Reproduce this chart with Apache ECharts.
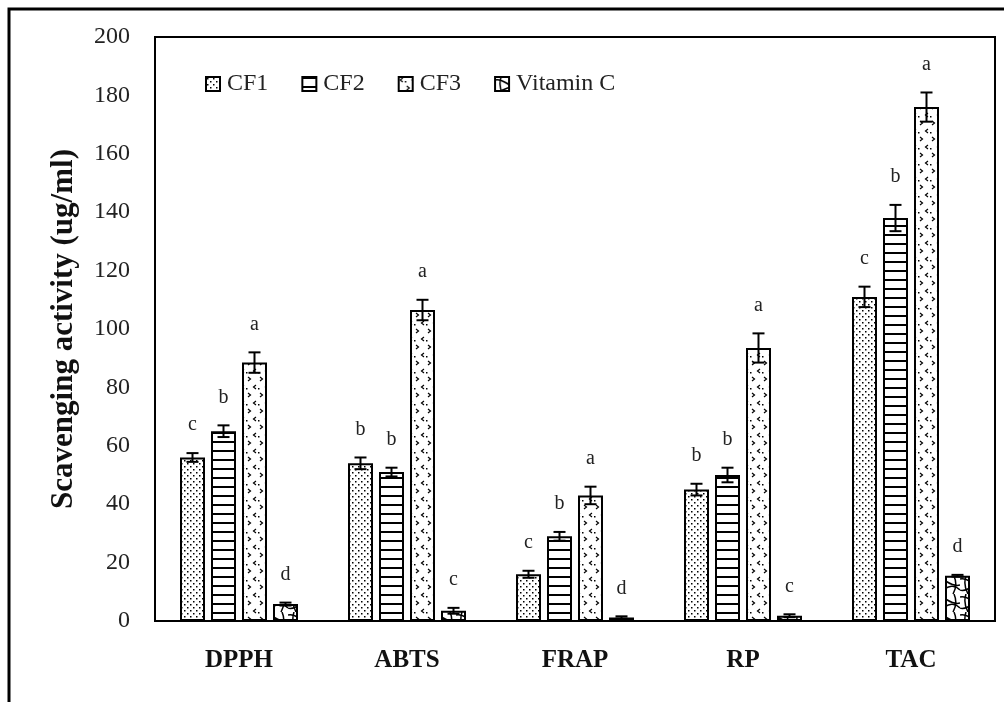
<!DOCTYPE html>
<html>
<head>
<meta charset="utf-8">
<script src="https://cdn.jsdelivr.net/npm/echarts@6/dist/echarts.min.js"></script>
<style>
html,body{margin:0;padding:0;background:#fff;}
#chart{width:1004px;height:702px;}
</style>
</head>
<body>
<div id="chart"></div>
<script>
// ---- data ----
const categories = ['DPPH', 'ABTS', 'FRAP', 'RP', 'TAC'];
const seriesNames = ['CF1', 'CF2', 'CF3', 'Vitamin C'];
const cf1 = [56, 54, 16, 45, 111];
const cf2 = [65, 51, 29, 50, 138];
const cf3 = [88.5, 106.5, 43, 93.5, 176];
const vitC = [5.8, 3.5, 1.2, 1.8, 15.5];
const cf1Err = [1.5, 2, 1.2, 2, 3.5];
const cf2Err = [2, 1.5, 1.5, 2.5, 4.5];
const cf3Err = [3.5, 3.5, 3, 5, 5];
const vitCErr = [0.5, 1, 0.4, 0.5, 0.3];
const cf1Letters = ['c', 'b', 'c', 'b', 'c'];
const cf2Letters = ['b', 'b', 'b', 'b', 'b'];
const cf3Letters = ['a', 'a', 'a', 'a', 'a'];
const vitCLetters = ['d', 'c', 'd', 'c', 'd'];
const yMin = 0, yMax = 200, yStep = 20;

const values = [cf1, cf2, cf3, vitC];
const errors = [cf1Err, cf2Err, cf3Err, vitCErr];
const letters = [cf1Letters, cf2Letters, cf3Letters, vitCLetters];

// ---- patterns ----
function makeCanvas(w, h, draw) {
  const c = document.createElement('canvas');
  c.width = w; c.height = h;
  const g = c.getContext('2d');
  g.fillStyle = '#fff'; g.fillRect(0, 0, w, h);
  g.fillStyle = '#000'; g.strokeStyle = '#000';
  draw(g);
  return c;
}
const patDots = makeCanvas(6, 6, g => {
  g.fillRect(1, 1, 1.5, 1.5);
  g.fillRect(4, 4, 1.5, 1.5);
});
const patLines = makeCanvas(8, 9, g => {
  g.fillRect(0, 0, 8, 2);
});
const patChev = makeCanvas(12, 16, g => {
  g.lineWidth = 1.2;
  g.beginPath(); g.moveTo(4, 1); g.lineTo(1.5, 3); g.lineTo(4, 5); g.stroke();
  g.beginPath(); g.moveTo(8, 9); g.lineTo(10.5, 11); g.lineTo(8, 13); g.stroke();
  g.fillRect(6, 4, 1.5, 1.5);
});
const patWave = makeCanvas(24, 18, g => {
  g.lineWidth = 1.5;
  g.beginPath(); g.moveTo(0, 3); g.bezierCurveTo(8, 0, 14, 12, 24, 9); g.stroke();
  g.beginPath(); g.moveTo(0, 14); g.bezierCurveTo(6, 18, 14, 4, 24, 14); g.stroke();
  g.beginPath(); g.moveTo(6, 0); g.quadraticCurveTo(3, 9, 8, 18); g.stroke();
  g.beginPath(); g.moveTo(18, 0); g.quadraticCurveTo(22, 9, 17, 18); g.stroke();
});
const patterns = [patDots, patLines, patChev, patWave];

const FONT = 'Liberation Serif';
const BAR_W = 25, BAR_GAP = 6;

const barSeries = seriesNames.map((name, k) => ({
  name: name,
  type: 'bar',
  data: values[k],
  barWidth: BAR_W,
  barGap: (BAR_GAP / BAR_W * 100) + '%',
  itemStyle: {
    color: { image: patterns[k], repeat: 'repeat' },
    borderColor: '#000',
    borderWidth: 2
  },
  z: 2
}));

const errSeries = seriesNames.map((name, k) => ({
  type: 'custom',
  name: name + ' err',
  z: 5,
  silent: true,
  data: values[k].map((v, i) => [i, v, errors[k][i]]),
  encode: { x: 0, y: 1 },
  renderItem: function (params, api) {
    const c = api.value(0), v = api.value(1), e = api.value(2);
    const base = api.coord([c, v]);
    const x = base[0] + (k - 1.5) * (BAR_W + BAR_GAP);
    const top = api.coord([c, v + e])[1];
    const bot = api.coord([c, Math.max(0, v - e)])[1];
    const st = { stroke: '#000', lineWidth: 2 };
    return {
      type: 'group',
      children: [
        { type: 'line', shape: { x1: x, y1: top, x2: x, y2: bot }, style: st },
        { type: 'line', shape: { x1: x - 6, y1: top, x2: x + 6, y2: top }, style: st },
        { type: 'line', shape: { x1: x - 6, y1: bot, x2: x + 6, y2: bot }, style: st },
        { type: 'text', style: { text: letters[k][params.dataIndex], x: x, y: top - 18,
            align: 'center', verticalAlign: 'bottom', fill: '#222',
            font: '20px "' + FONT + '"' } }
      ]
    };
  }
}));

const chart = echarts.init(document.getElementById('chart'), null, { renderer: 'canvas' });
chart.setOption({
  animation: false,
  backgroundColor: '#fff',
  graphic: [{
    type: 'rect', shape: { x: 9, y: 9, width: 1100, height: 800 },
    style: { fill: 'none', stroke: '#000', lineWidth: 3 }, z: 0
  }],
  grid: { left: 155, right: 9, top: 37, bottom: 81, show: true, borderColor: '#000', borderWidth: 2, backgroundColor: 'transparent' },
  legend: {
    data: seriesNames,
    left: 200, top: 67,
    itemWidth: 14, itemHeight: 14, itemGap: 33,
    icon: 'rect',
    itemStyle: { borderColor: '#000', borderWidth: 2 },
    textStyle: { fontFamily: FONT, fontSize: 24, color: '#222', padding: [0, 0, 0, 2] }
  },
  xAxis: {
    type: 'category', data: categories,
    axisLine: { lineStyle: { color: '#000', width: 2 } },
    axisTick: { show: false },
    axisLabel: { fontFamily: FONT, fontSize: 25, fontWeight: 'bold', color: '#111', margin: 27 }
  },
  yAxis: {
    type: 'value', min: yMin, max: yMax, interval: yStep,
    name: 'Scavenging activity (ug/ml)',
    nameLocation: 'middle', nameGap: 76,
    nameTextStyle: { fontFamily: FONT, fontSize: 31, fontWeight: 'bold', color: '#111' },
    axisLine: { show: true, lineStyle: { color: '#000', width: 2 } },
    axisTick: { show: false },
    splitLine: { show: false },
    axisLabel: { fontFamily: FONT, fontSize: 24, color: '#222', margin: 25 }
  },
  series: barSeries.concat(errSeries)
});
</script>
</body>
</html>
